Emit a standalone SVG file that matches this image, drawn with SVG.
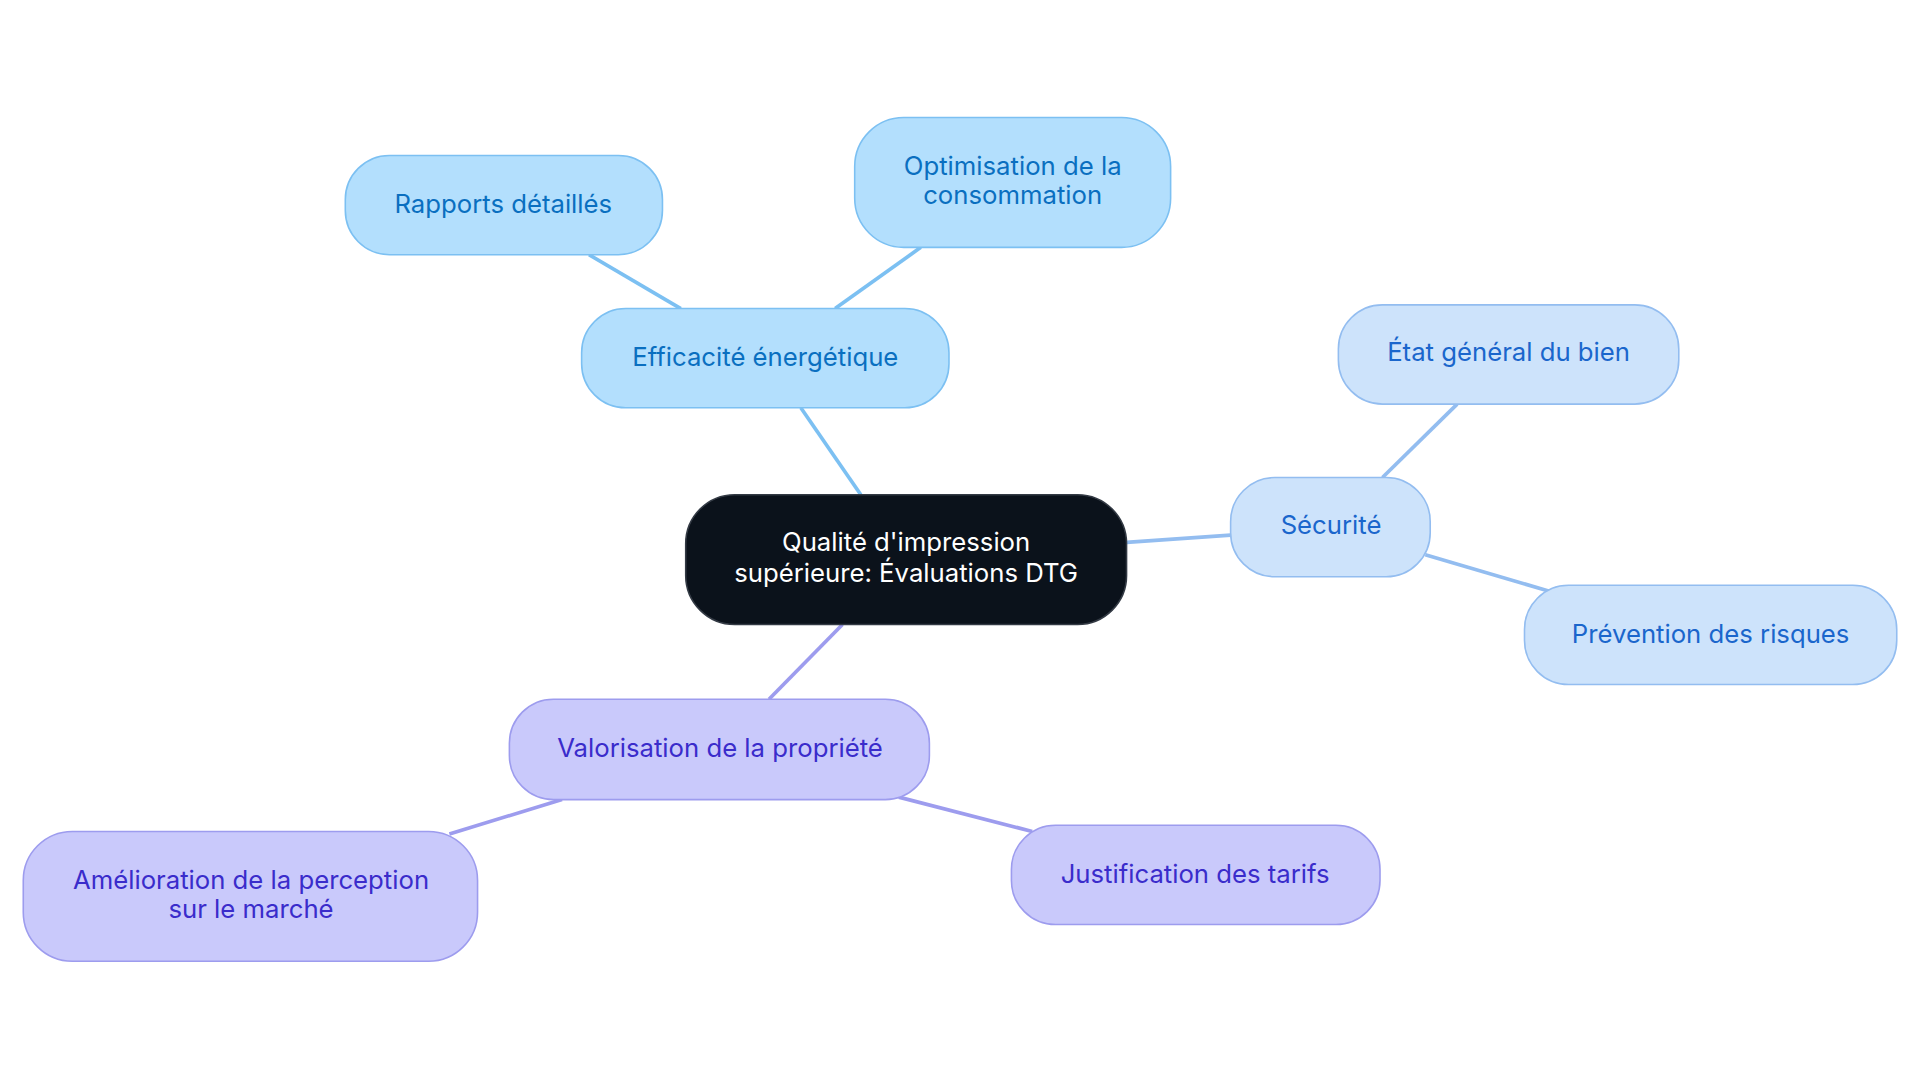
<svg xmlns="http://www.w3.org/2000/svg" width="1920" height="1083" viewBox="0 0 1920 1083">
<style>
text{font-family:Inter,"Noto Sans","Liberation Sans",sans-serif;font-size:21px;text-anchor:middle}
.b rect{fill:#b3dffd;stroke:#7cc0f2;stroke-width:1.3}.b text{fill:#0a6fc0}
.s rect{fill:#cde3fb;stroke:#93bdf0;stroke-width:1.3}.s text{fill:#1a66cc}
.p rect{fill:#c9c9fb;stroke:#9d9cee;stroke-width:1.3}.p text{fill:#3a2ccb}
#edges line{stroke-width:3}
</style>
<rect width="1920" height="1083" fill="#fff"/>
<g transform="scale(1.2245)">
<g id="edges">
<line x1="703" y1="404" x2="654" y2="333" stroke="#7cc0f2"/>
<line x1="556" y1="252" x2="481" y2="208" stroke="#7cc0f2"/>
<line x1="682" y1="252" x2="752" y2="202" stroke="#7cc0f2"/>
<line x1="920" y1="443" x2="1005" y2="437" stroke="#93bdf0"/>
<line x1="1129" y1="390" x2="1190" y2="330" stroke="#93bdf0"/>
<line x1="1164" y1="453" x2="1266" y2="483" stroke="#93bdf0"/>
<line x1="688" y1="510" x2="628" y2="571" stroke="#9d9cee"/>
<line x1="459" y1="653" x2="367" y2="681" stroke="#9d9cee"/>
<line x1="734" y1="651" x2="843" y2="679" stroke="#9d9cee"/>
</g>
<g id="center"><rect x="560" y="404" width="360" height="106" rx="40" fill="#0b121b" stroke="#333a44" stroke-width="1.3"/><text fill="#fff" x="740" y="450">Qualité d'impression</text><text fill="#fff" x="740" y="475">supérieure: Évaluations DTG</text></g>
<g id="eff" class="b"><rect x="475" y="252" width="300" height="81" rx="36"/><text x="625" y="299">Efficacité énergétique</text></g>
<g id="rapp" class="b"><rect x="282" y="127" width="259" height="81" rx="36"/><text x="411" y="174">Rapports détaillés</text></g>
<g id="opt" class="b"><rect x="698" y="96" width="258" height="106" rx="40"/><text x="827" y="143">Optimisation de la</text><text x="827" y="167">consommation</text></g>
<g id="sec" class="s"><rect x="1005" y="390" width="163" height="81" rx="36"/><text x="1087" y="436">Sécurité</text></g>
<g id="etat" class="s"><rect x="1093" y="249" width="278" height="81" rx="36"/><text x="1232" y="295">État général du bien</text></g>
<g id="prev" class="s"><rect x="1245" y="478" width="304" height="81" rx="36"/><text x="1397" y="525">Prévention des risques</text></g>
<g id="val" class="p"><rect x="416" y="571" width="343" height="82" rx="36"/><text x="588" y="618">Valorisation de la propriété</text></g>
<g id="ame" class="p"><rect x="19" y="679" width="371" height="106" rx="40"/><text x="205" y="726">Amélioration de la perception</text><text x="205" y="750">sur le marché</text></g>
<g id="just" class="p"><rect x="826" y="674" width="301" height="81" rx="36"/><text x="976" y="721">Justification des tarifs</text></g>
</g>
</svg>
